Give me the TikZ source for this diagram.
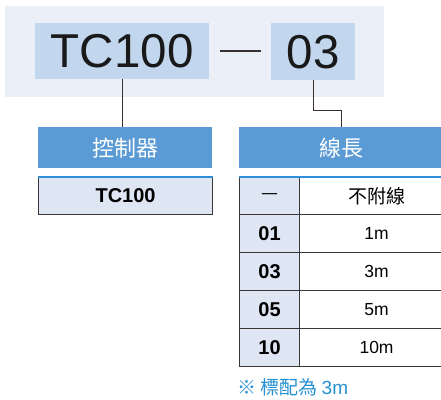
\documentclass[tikz,border=0pt]{standalone}
\usepackage{fontspec}
\setmainfont{Liberation Sans}
\newfontfamily\cjk{Noto Sans CJK TC}
\definecolor{bgc}{HTML}{EAEFF8}
\definecolor{hlc}{HTML}{C2D6EE}
\definecolor{hdc}{HTML}{5B9BD5}
\definecolor{lfc}{HTML}{DFE6F3}
\definecolor{tblc}{HTML}{3A3536}
\definecolor{linec}{HTML}{3A3030}
\definecolor{topc}{HTML}{2E8FD8}
\definecolor{notec}{HTML}{2490D2}
\begin{document}
\begin{tikzpicture}[x=1pt,y=-1pt,
  hl/.style={fill=hlc,inner sep=0pt,anchor=north west,text=black!90,font=\fontsize{47.5}{47.5}\selectfont},
  hdr/.style={fill=hdc,inner sep=0pt,anchor=north west,minimum height=41pt,text=white,font=\cjk\fontsize{22}{22}\selectfont},
  cell/.style={draw=tblc,line width=1.1pt,inner sep=0pt,anchor=north west,minimum height=38pt},
  lcell/.style={cell,fill=lfc,minimum width=60pt,font=\bfseries\fontsize{20}{20}\selectfont},
  rcell/.style={cell,fill=white,minimum width=154pt,font=\fontsize{17.5}{17.5}\selectfont},
  conn/.style={draw=linec,line width=1.1pt},
  topline/.style={draw=topc,line width=1.1pt}
]
\useasboundingbox (0,0) rectangle (441,399);
\fill[bgc] (5,6) rectangle (384,97);
\node[hl,minimum width=174pt,minimum height=56pt] (tc) at (35,23) {TC100};
\node[hl,minimum width=84pt,minimum height=57pt] (code) at (271,23) {03};
\coordinate (d1) at (220,51);
\coordinate (d2) at (261,51);
\draw[conn,line width=1.3pt] (d1) -- (d2);
% headers
\node[hdr,minimum width=174pt] (ctl) at (38,127) {控制器};
\node[hdr,minimum width=204pt] (len) at (239,127) {線長};
\draw[conn] (tc.south) -- (tc.south |- ctl.north);
\draw[conn] (code.south) -- ++(0,30) -| (len.north);
% controller box
\node[cell,fill=lfc,minimum width=174pt,minimum height=37pt,font=\bfseries\fontsize{20}{20}\selectfont] (tcv) at (38,177) {TC100};
\draw[topline] (tcv.north west) -- (tcv.north east);
% length table
\node[lcell,minimum height=37pt,font=\cjk\fontsize{19}{19}\selectfont] (k0) at (239,177) {—};
\node[rcell,minimum height=37pt,font=\cjk\fontsize{19}{19}\selectfont] (v0) at (299,177) {不附線};
\node[lcell] (k1) at (239,214) {01};
\node[rcell] (v1) at (299,214) {1m};
\node[lcell] (k2) at (239,252) {03};
\node[rcell] (v2) at (299,252) {3m};
\node[lcell] (k3) at (239,290) {05};
\node[rcell] (v3) at (299,290) {5m};
\node[lcell] (k4) at (239,328) {10};
\node[rcell] (v4) at (299,328) {10m};
\draw[topline] (k0.north west) -- (v0.north east);
\node[anchor=west,inner sep=0pt,text=notec,font=\cjk\fontsize{19}{19}\selectfont] (note) at (237,387) {※ 標配為 {\fontspec{Liberation Sans}3m}};
\end{tikzpicture}
\end{document}
